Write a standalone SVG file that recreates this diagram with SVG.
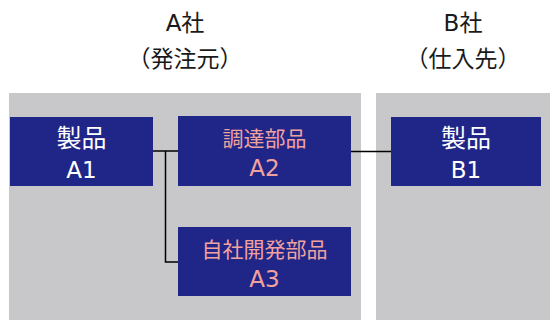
<svg xmlns="http://www.w3.org/2000/svg" width="550" height="320" viewBox="0 0 550 320">
<style>
.t{font-family:"DejaVu Sans","Noto Sans CJK JP",sans-serif;text-anchor:middle}
.title{font-size:23px;fill:#1a1a1a}
.box{fill:#1f2688}
.w{fill:#ffffff}
.p{fill:#f2a19e}
.c{fill:none;stroke:#000;stroke-width:1.5}
</style>
<rect width="550" height="320" fill="#fff"/>
<rect x="9" y="93" width="352" height="227" fill="#c8c8ca"/>
<rect x="376" y="93" width="174" height="227" fill="#c8c8ca"/>
<text class="t title" x="185" y="31">A社</text>
<text class="t title" x="185" y="67">（発注元）</text>
<text class="t title" x="463" y="31">B社</text>
<text class="t title" x="463" y="67">（仕入先）</text>
<g id="connectors">
<path class="c" d="M153,151 H178 M165.5,151 V262 H178"/>
<path class="c" d="M351,151.5 H391"/>
</g>
<g id="A1">
<rect class="box" x="10" y="117" width="143" height="69"/>
<text class="t w" x="81.5" y="147" font-size="25">製品</text>
<text class="t w" x="81.5" y="178" font-size="23">A1</text>
</g>
<g id="A2">
<rect class="box" x="178" y="116" width="173" height="70"/>
<text class="t p" x="264.5" y="146" font-size="21">調達部品</text>
<text class="t p" x="264.5" y="176" font-size="23">A2</text>
</g>
<g id="A3">
<rect class="box" x="178" y="227" width="173" height="69"/>
<text class="t p" x="264.5" y="257" font-size="21">自社開発部品</text>
<text class="t p" x="264.5" y="287" font-size="23">A3</text>
</g>
<g id="B1">
<rect class="box" x="391" y="117" width="150" height="69"/>
<text class="t w" x="466" y="147" font-size="25">製品</text>
<text class="t w" x="466" y="178" font-size="23">B1</text>
</g>
</svg>
